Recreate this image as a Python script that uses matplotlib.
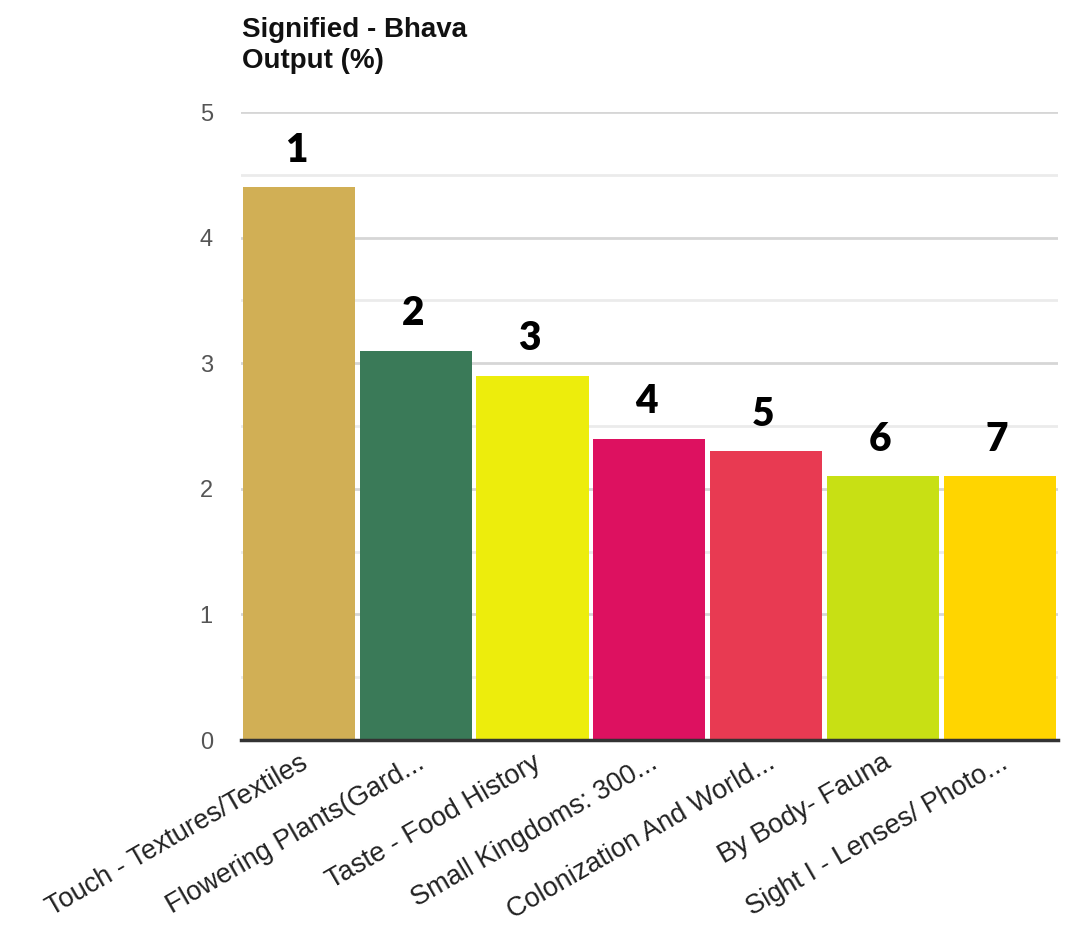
import numpy as np
import matplotlib.pyplot as plt
from matplotlib.ticker import MultipleLocator

categories = [
    "Touch - Textures/Textiles",
    "Flowering Plants(Gard...",
    "Taste - Food History",
    "Small Kingdoms: 300...",
    "Colonization And World...",
    "By Body- Fauna",
    "Sight I - Lenses/ Photo...",
]
values = [4.4, 3.1, 2.9, 2.4, 2.3, 2.1, 2.1]
ranks = ["1", "2", "3", "4", "5", "6", "7"]
colors = ["#D1AF55", "#3A7A58", "#EDED0C", "#DD1160", "#E83A52", "#C8E014", "#FFD500"]

fig = plt.figure(figsize=(10.68, 9.32), dpi=100)
ax = fig.add_axes([0.2253, 0.206, 0.7653, 0.6738])

x = np.arange(len(categories))
bars = ax.bar(x, values, width=0.96, color=colors, zorder=2)

ax.set_xlim(-0.5, len(categories) - 0.5)
ax.set_ylim(0, 5)
ax.yaxis.set_major_locator(MultipleLocator(1))
ax.yaxis.set_minor_locator(MultipleLocator(0.5))
ax.grid(axis="y", which="major", color="#d6d6d6", linewidth=2, zorder=0)
ax.grid(axis="y", which="minor", color="#ebebeb", linewidth=2, zorder=0)
ax.set_axisbelow(True)

for s in ["top", "right", "left"]:
    ax.spines[s].set_visible(False)
ax.spines["bottom"].set_color("#333333")
ax.spines["bottom"].set_linewidth(2.5)
ax.spines["bottom"].set_zorder(3)

ax.tick_params(axis="y", which="both", length=0, pad=20, labelsize=17, labelcolor="#555555")
ax.tick_params(axis="x", length=0, pad=7)
for lab in ax.get_yticklabels():
    lab.set_fontfamily("Liberation Sans")

ax.set_xticks(x)
ax.set_xticklabels(categories, rotation=30, ha="right", rotation_mode="anchor",
                   fontsize=19.5, color="#222222", family="Liberation Sans")

for b, r in zip(bars, ranks):
    ax.annotate(r, xy=(b.get_x() + b.get_width() / 2 - 3 / 116.8, b.get_height()),
                xytext=(0, 37), textcoords="offset pixels", ha="center", va="center",
                fontsize=28, fontweight="heavy", family="Lato", color="black")

fig.text(0.2266, 0.982, "Signified - Bhava\nOutput (%)", ha="left", va="top",
         fontsize=20, fontweight="bold", family="Liberation Sans", color="#111111",
         linespacing=1.25)

fig.savefig("out.png", dpi=100)
